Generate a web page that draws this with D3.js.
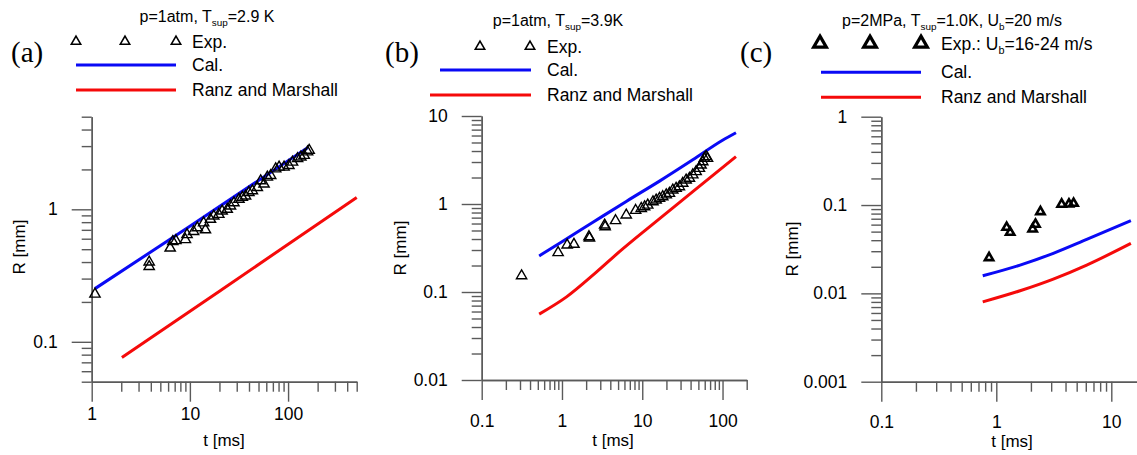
<!DOCTYPE html>
<html>
<head>
<meta charset="utf-8">
<script src="https://cdn.jsdelivr.net/npm/d3@7/dist/d3.min.js"></script>
<style>
  html, body { margin: 0; padding: 0; background: #fff; }
  svg { display: block; }
  text { font-family: "Liberation Sans", Arial, sans-serif; fill: #000; }
</style>
</head>
<body>
<svg id="chart" width="1137" height="455"></svg>
<script>
// ---- Panel (a): p = 1 atm, Tsup = 2.9 K ----
const expA_t = [1.08, 3.85, 3.85, 6.3, 6.7, 7.2, 9.0, 9.35, 10.9, 11.9, 13.8, 14.4, 16.2, 17.5, 19.7, 21.3, 24, 25.9, 28.1, 31.6, 34.2, 36.9, 39.9, 43.3, 48.6, 52.6, 56.9, 61.5, 66.5, 74.8, 81, 91, 102, 111, 125, 135, 146, 158, 164];
const expA_R = [0.229, 0.40, 0.37, 0.51, 0.57, 0.58, 0.59, 0.644, 0.68, 0.725, 0.79, 0.70, 0.84, 0.89, 0.916, 0.97, 1.0, 1.06, 1.12, 1.19, 1.23, 1.26, 1.34, 1.38, 1.46, 1.64, 1.55, 1.75, 1.80, 2.02, 2.08, 2.08, 2.14, 2.27, 2.41, 2.48, 2.55, 2.71, 2.79];
const calA_t = [1.08, 10, 158];
const calA_R = [0.252, 0.745, 2.92];
const rmA_t = [2.03, 20, 500];
const rmA_R = [0.076, 0.241, 1.23];

// ---- Panel (b): p = 1 atm, Tsup = 3.9 K ----
const expB_t = [0.314, 0.895, 1.16, 1.41, 2.17, 2.2, 3.4, 3.45, 4.65, 6.32, 8.27, 9.72, 10.7, 11.7, 13.6, 14.9, 16.4, 18.0, 19.9, 21.8, 24, 26.4, 29, 31.9, 35.2, 38.7, 42.6, 46.9, 51.5, 54, 56.7, 59.4, 62.4, 65];
const expB_R = [0.153, 0.28, 0.342, 0.348, 0.425, 0.41, 0.577, 0.55, 0.646, 0.75, 0.845, 0.89, 0.93, 0.97, 1.06, 1.11, 1.16, 1.21, 1.27, 1.32, 1.44, 1.51, 1.57, 1.72, 1.87, 1.96, 2.14, 2.33, 2.54, 2.77, 3.02, 3.31, 3.45, 3.3];
const calB_t = [0.52, 1, 2.43, 6.32, 16.4, 42.6, 100, 147];
const calB_R = [0.257, 0.373, 0.62, 1.07, 1.82, 3.18, 5.3, 6.46];
const rmB_t = [0.52, 1.14, 2.68, 5.2, 12.3, 42.6, 147];
const rmB_R = [0.056, 0.088, 0.168, 0.287, 0.55, 1.38, 3.45];

// ---- Panel (c): p = 2 MPa, Tsup = 1.0 K, Ub = 20 m/s ----
const expC_t = [0.865, 1.23, 1.32, 2.07, 2.19, 2.42, 3.70, 4.28, 4.7];
const expC_R = [0.0253, 0.0559, 0.049, 0.0535, 0.0605, 0.084, 0.102, 0.1026, 0.1045];
const calC_t = [0.762, 1.61, 3.13, 6.11, 14.8];
const calC_R = [0.0158, 0.0209, 0.0284, 0.0408, 0.0664];
const rmC_t = [0.762, 1.61, 3.13, 6.11, 14.8];
const rmC_R = [0.008, 0.0107, 0.0145, 0.0209, 0.0368];

// Axis domains and tick-label values
const xDomA = [1, 500],   yDomA = [0.05, 5];
const xDomB = [0.1, 200], yDomB = [0.01, 10];
const xDomC = [0.1, 20],  yDomC = [0.001, 1];
const xLabA = [1, 10, 100],       yLabA = [0.1, 1];
const xLabB = [0.1, 1, 10, 100], yLabB = [0.01, 0.1, 1, 10];
const xLabC = [0.1, 1, 10],      yLabC = [0.001, 0.01, 0.1, 1];

const legendTexts = ["Exp.", "Cal.", "Ranz and Marshall"];

const BLUE = "#0a0af5", RED = "#f50a0a", AXIS = "#5a5a5a";
const TICK_FS = 17.5, LEG_FS = 17.5, TITLE_FS = 16, AXT_FS = 17;
const svg = d3.select("#chart");
svg.append("rect").attr("width", 1137).attr("height", 455).attr("fill", "#fff");

const zip = (a, b) => a.map((v, i) => [v, b[i]]);

// all 1..9 x 10^n values inside a log domain
function logTicks(dom) {
  const out = [];
  for (let e = Math.floor(Math.log10(dom[0])) ; e <= Math.ceil(Math.log10(dom[1])); e++) {
    for (let k = 1; k <= 9; k++) {
      const v = +(k * Math.pow(10, e)).toPrecision(6);
      if (v >= dom[0] * 0.999 && v <= dom[1] * 1.001) out.push(v);
    }
  }
  return out;
}
const fmt = v => String(+v.toPrecision(6));

// rich text with subscript parts
function richText(g, x, y, parts, anchor, size) {
  const t = g.append("text").attr("x", x).attr("y", y)
    .attr("text-anchor", anchor).style("font-size", size + "px");
  let shifted = 0;
  parts.forEach(([s, sub]) => {
    const dy = sub ? 4 - shifted : -shifted;
    shifted = sub ? 4 : 0;
    t.append("tspan").attr("dy", dy).style("font-size", (sub ? size * 0.62 : size) + "px").text(s);
  });
  return t;
}

function panel(cfg) {
  const g = svg.append("g");
  const x = d3.scaleLog().domain(cfg.xDom).range([cfg.left, cfg.right]);
  const y = d3.scaleLog().domain(cfg.yDom).range([cfg.bottom, cfg.top]);

  const xAll = logTicks(cfg.xDom), yAll = logTicks(cfg.yDom);
  const xMinor = xAll.filter(v => !cfg.xLab.includes(v));
  const yMinor = yAll.filter(v => !cfg.yLab.includes(v));

  const styleAxis = sel => {
    sel.selectAll("path.domain").attr("stroke", AXIS).attr("stroke-width", 1.4);
    sel.selectAll(".tick line").attr("stroke", AXIS).attr("stroke-width", 1.4);
    sel.selectAll(".tick text").style("font-size", TICK_FS + "px")
      .style("font-family", '"Liberation Sans", Arial, sans-serif').attr("fill", "#000");
  };

  g.append("g").attr("transform", `translate(0,${cfg.bottom})`)
    .call(d3.axisBottom(x).tickValues(xMinor).tickSize(10).tickSizeOuter(0).tickFormat(""))
    .call(styleAxis);
  g.append("g").attr("transform", `translate(0,${cfg.bottom})`)
    .call(d3.axisBottom(x).tickValues(cfg.xLab).tickSize(20).tickSizeOuter(0)
      .tickPadding(cfg.xPad).tickFormat(fmt))
    .call(styleAxis);
  g.append("g").attr("transform", `translate(${cfg.left},0)`)
    .call(d3.axisLeft(y).tickValues(yMinor).tickSize(10).tickSizeOuter(0).tickFormat(""))
    .call(styleAxis);
  g.append("g").attr("transform", `translate(${cfg.left},0)`)
    .call(d3.axisLeft(y).tickValues(cfg.yLab).tickSize(20).tickSizeOuter(0)
      .tickPadding(14).tickFormat(fmt))
    .call(styleAxis);

  // axis titles
  g.append("text").attr("x", cfg.xtX).attr("y", cfg.xtY)
    .attr("text-anchor", "middle").style("font-size", AXT_FS + "px").text("t [ms]");
  g.append("text").attr("transform", `translate(${cfg.ytX},${cfg.ytY}) rotate(-90)`)
    .attr("text-anchor", "middle").style("font-size", AXT_FS + "px").text("R [mm]");

  const line = d3.line().x(d => x(d[0])).y(d => y(d[1])).curve(d3.curveMonotoneX);
  g.append("path").datum(zip(cfg.rm[0], cfg.rm[1])).attr("d", line)
    .attr("fill", "none").attr("stroke", RED).attr("stroke-width", 3);
  g.append("path").datum(zip(cfg.cal[0], cfg.cal[1])).attr("d", line)
    .attr("fill", "none").attr("stroke", BLUE).attr("stroke-width", 3);

  const tri = d3.symbol(d3.symbolTriangle, cfg.triSize);
  g.append("g").selectAll("path").data(zip(cfg.exp[0], cfg.exp[1])).join("path")
    .attr("d", tri).attr("transform", d => `translate(${x(d[0])},${y(d[1])})`)
    .attr("fill", "none").attr("stroke", "#000").attr("stroke-width", cfg.triStroke);

  // panel tag
  g.append("text").attr("x", cfg.tagX).attr("y", cfg.tagY)
    .style("font-family", '"Liberation Serif", "Times New Roman", serif')
    .style("font-size", "29px").text(cfg.tag);

  // title
  richText(g, cfg.titleX, cfg.titleY, cfg.title, "middle", TITLE_FS);

  // legend
  const L = cfg.leg;
  const legTri = d3.symbol(d3.symbolTriangle, L.triSize);
  L.triX.forEach(tx => g.append("path").attr("d", legTri)
    .attr("transform", `translate(${tx},${L.rowY[0]})`)
    .attr("fill", "none").attr("stroke", "#000").attr("stroke-width", L.triStroke));
  g.append("line").attr("x1", L.calX[0]).attr("x2", L.calX[1]).attr("y1", L.rowY[1]).attr("y2", L.rowY[1])
    .attr("stroke", BLUE).attr("stroke-width", 3);
  g.append("line").attr("x1", L.rmX[0]).attr("x2", L.rmX[1]).attr("y1", L.rowY[2]).attr("y2", L.rowY[2])
    .attr("stroke", RED).attr("stroke-width", 3);
  richText(g, L.textX, L.rowY[0] + 6, L.expText, "start", LEG_FS);
  richText(g, L.textX, L.rowY[1] + 6, [[legendTexts[1], false]], "start", LEG_FS);
  richText(g, L.textX, L.rowY[2] + 6, [[legendTexts[2], false]], "start", LEG_FS);
}

panel({
  xDom: xDomA, yDom: yDomA, xLab: xLabA, yLab: yLabA,
  left: 91.7, right: 356.7, top: 116.7, bottom: 381.7, xPad: 6,
  xtX: 224, xtY: 446, ytX: 25, ytY: 247,
  exp: [expA_t, expA_R], cal: [calA_t, calA_R], rm: [rmA_t, rmA_R],
  triSize: 46, triStroke: 1.4,
  tag: "(a)", tagX: 11, tagY: 62,
  titleX: 207, titleY: 22,
  title: [["p=1atm, T", false], ["sup", true], ["=2.9 K", false]],
  leg: { triX: [76, 125, 176], triSize: 38, triStroke: 1.6, rowY: [41.5, 65, 90],
         calX: [76, 176], rmX: [76, 176], textX: 192, expText: [[legendTexts[0], false]] }
});

panel({
  xDom: xDomB, yDom: yDomB, xLab: xLabB, yLab: yLabB,
  left: 481.7, right: 746.7, top: 116, bottom: 380, xPad: 15,
  xtX: 613, xtY: 446, ytX: 406, ytY: 248,
  exp: [expB_t, expB_R], cal: [calB_t, calB_R], rm: [rmB_t, rmB_R],
  triSize: 46, triStroke: 1.4,
  tag: "(b)", tagX: 385, tagY: 62,
  titleX: 558, titleY: 26,
  title: [["p=1atm, T", false], ["sup", true], ["=3.9K", false]],
  leg: { triX: [480, 530], triSize: 38, triStroke: 1.6, rowY: [46.5, 70, 95],
         calX: [440, 531], rmX: [430, 531], textX: 547, expText: [[legendTexts[0], false]] }
});

panel({
  xDom: xDomC, yDom: yDomC, xLab: xLabC, yLab: yLabC,
  left: 881.3, right: 881.3 + 115 * Math.log10(200), top: 116.7, bottom: 381.7, xPad: 14,
  xtX: 1012, xtY: 447, ytX: 798, ytY: 249,
  exp: [expC_t, expC_R], cal: [calC_t, calC_R], rm: [rmC_t, rmC_R],
  triSize: 30, triStroke: 2.6,
  tag: "(c)", tagX: 740, tagY: 62,
  titleX: 952, titleY: 26,
  title: [["p=2MPa, T", false], ["sup", true], ["=1.0K, U", false], ["b", true], ["=20 m/s", false]],
  leg: { triX: [820, 870, 921], triSize: 70, triStroke: 3.2, rowY: [43.5, 72.3, 97.3],
         calX: [821, 921], rmX: [821, 921], textX: 941,
         expText: [["Exp.: U", false], ["b", true], ["=16-24 m/s", false]] }
});
</script>
</body>
</html>
